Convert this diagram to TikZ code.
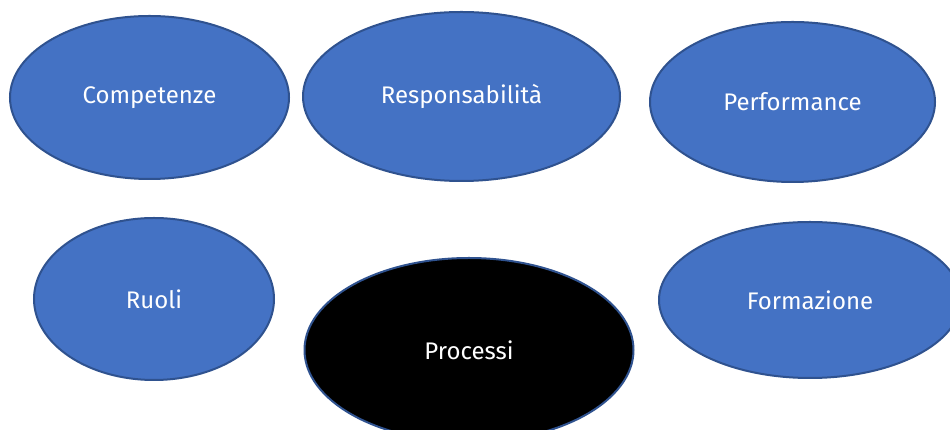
\documentclass[tikz,border=0pt]{standalone}
\usepackage{fontspec}
\setmainfont{Fira Sans}
\usetikzlibrary{shapes.geometric}
\definecolor{fillblue}{HTML}{4472C4}
\definecolor{edgeblue}{HTML}{2F528F}
\tikzset{
  bubble/.style={ellipse, draw=edgeblue, line width=2pt, fill=fillblue, text=white, inner sep=0pt, font=\fontsize{24}{28}\selectfont},
  darkbubble/.style={bubble, fill=black}
}
\begin{document}
\begin{tikzpicture}[x=1pt,y=1pt]
\useasboundingbox (0,0) rectangle (950,430);
\clip (0,0) rectangle (950,430);
\node[bubble, minimum width=279pt, minimum height=163pt] (comp) at (149.5,332.5) {Competenze};
\node[bubble, minimum width=317pt, minimum height=169pt] (resp) at (461.5,333.5) {Responsabilità};
\node[bubble, minimum width=285pt, minimum height=160pt] (perf) at (792.5,328) {Performance};
\node[bubble, minimum width=240pt, minimum height=162pt] (ruoli) at (154,131) {Ruoli};
\node[darkbubble, minimum width=329pt, minimum height=184pt] (proc) at (469,80) {Processi};
\node[bubble, minimum width=302pt, minimum height=156pt] (form) at (810,130) {Formazione};
\end{tikzpicture}
\end{document}
